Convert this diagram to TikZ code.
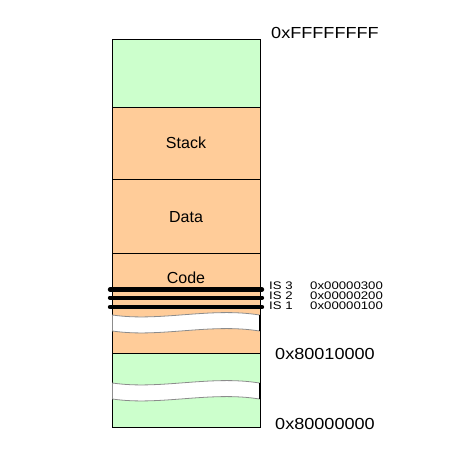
\documentclass[tikz,border=0pt]{standalone}
\usepackage{fontspec}
\setmainfont{Liberation Sans}
\definecolor{memgreen}{HTML}{CCFFCC}
\definecolor{memorange}{HTML}{FFCC99}
\tikzset{
  seg/.style={draw=black, line width=0.8pt},
  seglabel/.style={anchor=base, inner sep=0pt, font=\fontsize{16}{16}\selectfont},
  addr/.style={anchor=base west, inner sep=0pt, xscale=1.13, font=\fontsize{16}{16}\selectfont},
  islabel/.style={anchor=base west, inner sep=0pt, xscale=1.2, font=\fontsize{11}{11}\selectfont},
  isline/.style={line width=4.4pt, line cap=round},
  gap/.style={fill=white, draw=black!45, line width=0.8pt},
}
\begin{document}
\begin{tikzpicture}[x=1pt,y=-1pt]
  \useasboundingbox (0,0) rectangle (468,448);

  % Speicherbereiche
  \draw[seg, fill=memgreen]  (112,39)  rectangle (260,107);
  \draw[seg, fill=memorange] (112,107) rectangle (260,179);
  \draw[seg, fill=memorange] (112,179) rectangle (260,253);
  \draw[seg, fill=memorange] (112,253) rectangle (260,353);
  \draw[seg, fill=memgreen]  (112,353) rectangle (260,427);

  % Bereichsnamen
  \node[seglabel] (stack) at (186,148) {Stack};
  \node[seglabel] (data)  at (186,222) {Data};
  \node[seglabel] (code)  at (186,283) {Code};

  % Luecken
  \foreach \t in {315,383} {
    \draw[gap] (112.5,\t) .. controls (160,\t+7) and (210,\t-8) .. (259.5,\t)
      -- (259.5,\t+16) .. controls (210,\t+8) and (160,\t+23) .. (112.5,\t+16) -- cycle;
    \draw[seg, line width=1.4pt] (260,\t) -- (260,\t+16);
  }

  % IS-Grenzen
  \foreach \y in {289.5,297.7,307} \draw[isline] (110,\y) -- (262,\y);
  \node[islabel] (is3) at (269,289) {IS 3};
  \node[islabel] (is2) at (269,299) {IS 2};
  \node[islabel] (is1) at (269,309) {IS 1};
  \node[islabel] (a3) at (310,289) {0x00000300};
  \node[islabel] (a2) at (310,299) {0x00000200};
  \node[islabel] (a1) at (310,309) {0x00000100};

  % Adressen
  \node[addr] (top)  at (271,38)  {0xFFFFFFFF};
  \node[addr] (mid)  at (275,359) {0x80010000};
  \node[addr] (base) at (275,429) {0x80000000};
\end{tikzpicture}
\end{document}
